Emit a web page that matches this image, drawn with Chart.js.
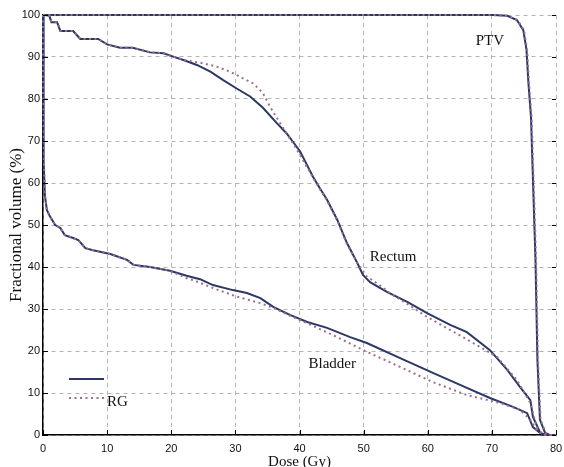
<!DOCTYPE html>
<html>
<head>
<meta charset="utf-8">
<script src="https://cdn.jsdelivr.net/npm/chart.js@4.4.1/dist/chart.umd.min.js"></script>
<style>
  html, body { margin:0; padding:0; background:#fff; }
  #wrap { width:564px; height:467px; }
</style>
</head>
<body>
<div id="wrap"><canvas id="dvh" width="564" height="467"></canvas></div>
<script>
// dose (Gy) / fractional volume (%)
const ptvDose     = [0, 68, 70.2, 72.4, 73.9, 74.9, 75.4, 75.7, 76.1, 76.8, 77.1, 77.5, 78.3, 79, 80];
const ptvVol      = [100, 100, 100, 99.8, 98.8, 96.4, 91.7, 83.8, 75.7, 41.7, 17.9, 3.6, 0.5, 0, 0];
const ptvDoseRG   = [0, 68, 70.2, 72.4, 74.0, 75.0, 75.5, 75.8, 76.2, 76.9, 77.2, 77.6, 78.4, 79, 80];
const ptvVolRG    = [100, 100, 100, 99.8, 98.8, 96.4, 91.7, 83.8, 75.7, 41.7, 17.9, 3.6, 0.5, 0, 0];

const rectumDose  = [0, 0.3, 1.0, 1.3, 2.2, 2.7, 4.7, 5.4, 5.8, 8.6, 10, 12, 14, 16.7, 18.8, 20.3, 21.9, 24, 26.1, 28.1, 30.2, 32.3, 34.3, 36.5, 38, 40.1, 41.2, 42.1, 43.2, 44.3, 45.9, 47.4, 49, 49.9, 51, 53.7, 56.8, 59.9, 63.5, 66.1, 69.7, 72.4, 74.4, 76, 76.4, 77.5, 78, 80];
const rectumVol   = [100, 100, 99.8, 98.3, 98.3, 96.2, 96.2, 95, 94.3, 94.3, 93, 92.2, 92.2, 91.1, 90.9, 90.1, 89.3, 88.1, 86.5, 84.5, 82.5, 80.6, 77.9, 74.2, 71.8, 67.5, 64.2, 61.5, 58.7, 56, 51.2, 45.7, 41, 38.1, 36.4, 34, 31.7, 29, 26.2, 24.5, 20.2, 15.5, 11.4, 8.3, 4.3, 0.7, 0, 0];
const rectumDoseRG = [0, 0.3, 1.0, 1.3, 2.2, 2.7, 4.7, 5.4, 5.8, 8.6, 10, 12, 14, 16.7, 18.8, 20.3, 21.9, 25, 27.1, 29.2, 31.2, 32.8, 34.3, 35.4, 36.5, 38, 39.6, 41.1, 42.1, 43.2, 44.3, 45.9, 47.4, 49, 50.5, 52.1, 54.1, 56.8, 59.9, 63.5, 67.1, 70.8, 73.9, 76, 77, 78, 80];
const rectumVolRG  = [100, 100, 99.8, 98.3, 98.3, 96.2, 96.2, 95, 94.3, 94.3, 93, 92.2, 92.2, 91.1, 90.9, 90.1, 89.3, 88.5, 87.7, 86.5, 84.9, 83.7, 81.4, 78.2, 75.4, 71.8, 67.9, 64.0, 61.3, 58.5, 55.8, 51.0, 45.5, 41, 37.7, 36.1, 33.8, 31.2, 28.1, 25, 21.9, 18.6, 13.1, 7.6, 1.9, 0, 0];

const bladderDose = [0, 0.05, 0.15, 0.3, 0.6, 1.1, 1.9, 2.7, 3.4, 4.7, 5.5, 6.6, 7.8, 10.5, 13.1, 14.1, 16.7, 19.8, 22.4, 24.5, 26.5, 29.6, 31.8, 33.9, 35.9, 38.5, 41.2, 44.3, 47.9, 50.5, 55.7, 60.8, 66.1, 69.7, 73.3, 75.5, 76.4, 77.5, 78.5, 80];
const bladderVol  = [100, 80, 65, 57, 53.6, 52, 50, 49.3, 47.6, 46.9, 46.4, 44.5, 44, 43.1, 41.7, 40.5, 40, 39.1, 37.9, 37.1, 35.7, 34.5, 33.8, 32.6, 30.5, 28.6, 26.9, 25.5, 23.3, 21.9, 18.3, 14.8, 11.2, 8.8, 6.7, 5.2, 1.9, 0.5, 0, 0];
const bladderDoseRG = [0, 0.05, 0.15, 0.3, 0.6, 1.1, 1.9, 2.7, 3.4, 4.7, 5.5, 6.6, 7.8, 10.5, 13.1, 14.1, 16.7, 19.8, 22.4, 23.4, 26.5, 30.3, 33.9, 36, 38.5, 41.2, 45.2, 50.5, 55.7, 60.8, 66.1, 71.3, 74.4, 76, 77, 78, 80];
const bladderVolRG  = [100, 80, 65, 57, 53.6, 52, 50, 49.3, 47.6, 46.9, 46.4, 44.5, 44, 43.1, 41.7, 40.5, 40, 39.1, 37.3, 36.9, 35, 32.9, 31.4, 30.2, 28.4, 26.6, 23.8, 19.8, 16.2, 12.6, 9.5, 7.6, 6, 3.6, 1.2, 0, 0];

const xTicks = [0, 10, 20, 30, 40, 50, 60, 70, 80];
const yTicks = [0, 10, 20, 30, 40, 50, 60, 70, 80, 90, 100];

// structure labels: name, dose, volume (data units)
const labelNames = ['PTV', 'Rectum', 'Bladder'];
const labelDose  = [69.7, 54.6, 45.1];
const labelVol   = [93.8, 42.4, 16.9];

const SOLID = '#2b3866';
const DOTTED = '#9c6e8e';

function pts(xs, ys){ return xs.map((x,i)=>({x:x, y:ys[i]})); }
function solid(xs, ys){
  return {data:pts(xs,ys), borderColor:SOLID, borderWidth:2, pointRadius:0, tension:0, order:1, clip:4};
}
function dotted(xs, ys){
  return {data:pts(xs,ys), borderColor:DOTTED, borderWidth:2, borderDash:[2,3.5], pointRadius:0, tension:0, order:0, clip:4, label:'RG'};
}

const decor = {
  id:'decor',
  afterDatasetsDraw(chart){
    const c = chart.ctx, xs = chart.scales.x, ys = chart.scales.y, a = chart.chartArea;
    c.save();
    // inward ticks, matlab style
    c.strokeStyle = '#000'; c.lineWidth = 1;
    xTicks.forEach(t=>{
      const px = Math.round(xs.getPixelForValue(t)) + 0.5;
      c.beginPath(); c.moveTo(px, a.bottom); c.lineTo(px, a.bottom - 5); c.stroke();
    });
    yTicks.forEach(t=>{
      const py = Math.round(ys.getPixelForValue(t)) + 0.5;
      c.beginPath(); c.moveTo(a.left, py); c.lineTo(a.left + 5, py); c.stroke();
      c.beginPath(); c.moveTo(a.right, py); c.lineTo(a.right - 4, py); c.stroke();
    });
    // structure names
    c.fillStyle = '#111';
    c.font = '15px "Liberation Serif", "Times New Roman", serif';
    c.textAlign = 'center'; c.textBaseline = 'middle';
    labelNames.forEach((n,i)=>{
      c.fillText(n, xs.getPixelForValue(labelDose[i]), ys.getPixelForValue(labelVol[i]));
    });
    // legend box (no frame)
    const lx = 69, lw = 35;
    c.setLineDash([]); c.strokeStyle = SOLID; c.lineWidth = 2;
    c.beginPath(); c.moveTo(lx, 379); c.lineTo(lx + lw, 379); c.stroke();
    c.setLineDash([2,3.5]); c.strokeStyle = DOTTED;
    c.beginPath(); c.moveTo(lx, 398); c.lineTo(lx + lw, 398); c.stroke();
    c.setLineDash([]);
    c.textAlign = 'left';
    c.fillText('RG', lx + lw + 3, 402);
    c.restore();
  }
};

new Chart(document.getElementById('dvh'), {
  type:'line',
  data:{
    datasets:[
      solid(ptvDose, ptvVol), dotted(ptvDoseRG, ptvVolRG),
      solid(rectumDose, rectumVol), dotted(rectumDoseRG, rectumVolRG),
      solid(bladderDose, bladderVol), dotted(bladderDoseRG, bladderVolRG)
    ]
  },
  options:{
    responsive:false, animation:false,
    layout:{padding:{top:15, right:8, left:0, bottom:0}},
    plugins:{legend:{display:false}, tooltip:{enabled:false}},
    scales:{
      x:{
        type:'linear', min:0, max:80,
        afterBuildTicks(s){ s.ticks = xTicks.map(v=>({value:v})); },
        afterFit(s){ s.height = 32; s.paddingLeft = 0; s.paddingRight = 0; },
        grid:{color:'#b4b4b4', lineWidth:1, drawTicks:false},
        border:{color:'#000', width:1.5, dash:[4,4]},
        ticks:{color:'#111', padding:7, maxRotation:0, font:{family:'"Liberation Sans", Arial, sans-serif', size:11}},
        title:{display:true, text:'Dose (Gy)', color:'#111', padding:{top:0, bottom:-4}, font:{family:'"Liberation Serif", "Times New Roman", serif', size:15}}
      },
      y:{
        type:'linear', min:0, max:100,
        afterBuildTicks(s){ s.ticks = yTicks.map(v=>({value:v})); },
        afterFit(s){ s.width = 43; s.paddingTop = 0; s.paddingBottom = 0; },
        grid:{color:'#b4b4b4', lineWidth:1, drawTicks:false},
        border:{color:'#000', width:1.5, dash:[4,4]},
        ticks:{color:'#111', padding:3, font:{family:'"Liberation Sans", Arial, sans-serif', size:11}},
        title:{display:true, text:'Fractional volume (%)', color:'#111', padding:{top:6, bottom:0}, font:{family:'"Liberation Serif", "Times New Roman", serif', size:17}}
      }
    }
  },
  plugins:[decor]
});
</script>
</body>
</html>
